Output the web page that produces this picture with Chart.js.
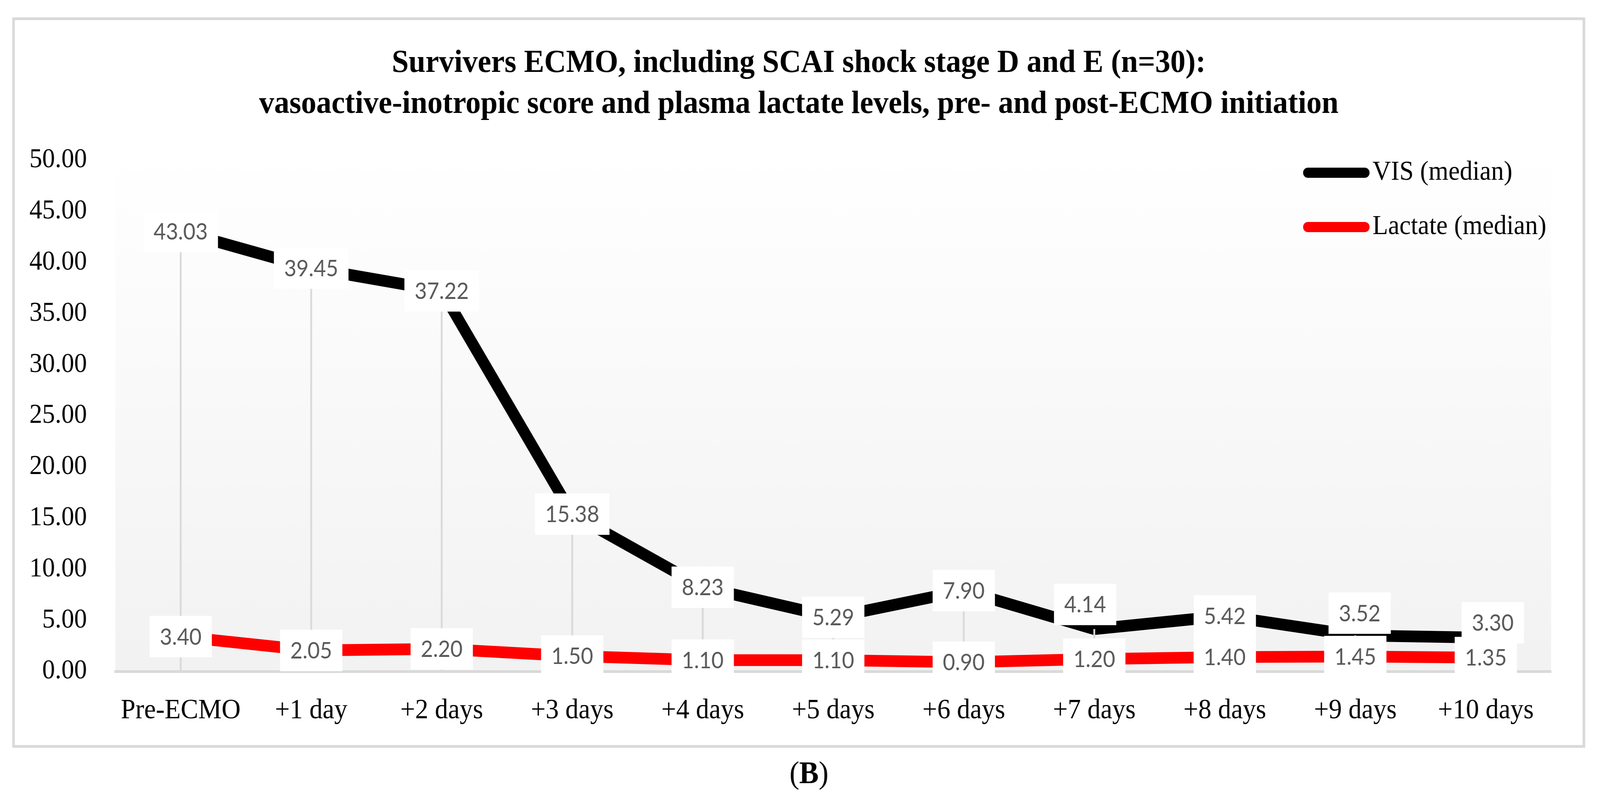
<!DOCTYPE html>
<html>
<head>
<meta charset="utf-8">
<script src="https://cdn.jsdelivr.net/npm/chart.js@4.4.1/dist/chart.umd.min.js"></script>
<style>
html, body { margin: 0; padding: 0; background: #fff; overflow: hidden; }
canvas { display: block; transform-origin: 0 0; }
</style>
</head>
<body>
<canvas id="ecmo-chart" width="4381" height="2042" style="width:4381px;height:2042px"></canvas>
<script>
// values (panel B)
var day_labels = ['Pre-ECMO', '+1 day', '+2 days', '+3 days', '+4 days', '+5 days',
                  '+6 days', '+7 days', '+8 days', '+9 days', '+10 days'];
var vis_median = [43.03, 39.45, 37.22, 15.38, 8.23, 5.29, 7.90, 4.14, 5.42, 3.52, 3.30];
var lactate_median = [3.40, 2.05, 2.20, 1.50, 1.10, 1.10, 0.90, 1.20, 1.40, 1.45, 1.35];
var series_names = ['VIS (median)', 'Lactate (median)'];
var title_lines = [
    'Survivers ECMO, including SCAI shock stage D and E (n=30):',
    'vasoactive-inotropic score and plasma lactate levels, pre- and post-ECMO initiation'
];
var caption_letter = 'B';

var serif = '"Liberation Serif", "Times New Roman", serif';
var sans = 'Lato, "Open Sans", sans-serif';

// the chart is laid out on a 4381x2042 sheet; squeeze it into whatever window we get
var W = 4381, H = 2042;
var canvasEl = document.getElementById('ecmo-chart');
canvasEl.style.transform = 'scale(' + (window.innerWidth / W) + ',' + (window.innerHeight / H) + ')';

// a few labels were moved by hand in the original so they don't sit on each other
// [dataset][point] = [dx, dy] in px
var labelNudge = {
    0: {7: [-25, -63], 9: [12, -57], 10: [19, -38]}
};

var decor = {
    id: 'decor',
    beforeDraw: function (chart) {
        var ctx = chart.ctx, a = chart.chartArea;
        ctx.save();
        ctx.fillStyle = '#fff';
        ctx.fillRect(0, 0, chart.width, chart.height);

        // outer frame
        ctx.strokeStyle = '#d9d9d9';
        ctx.lineWidth = 7;
        ctx.strokeRect(37, 48, 4300, 1862);

        // plot area, white to light grey
        var g = ctx.createLinearGradient(0, a.top, 0, a.bottom);
        g.addColorStop(0, '#ffffff');
        g.addColorStop(1, '#f2f2f2');
        ctx.fillStyle = g;
        ctx.fillRect(a.left, a.top, a.right - a.left, a.bottom - a.top);
        ctx.restore();
    },
    afterDatasetsDraw: function (chart) {
        var ctx = chart.ctx, a = chart.chartArea;
        ctx.save();

        // drop lines from the VIS points down to the axis
        var visMeta = chart.getDatasetMeta(0);
        ctx.strokeStyle = '#d9d9d9';
        ctx.lineWidth = 5;
        visMeta.data.forEach(function (pt) {
            ctx.beginPath();
            ctx.moveTo(pt.x, pt.y);
            ctx.lineTo(pt.x, a.bottom);
            ctx.stroke();
        });

        // value labels in white boxes
        ctx.font = '58px ' + sans;
        ctx.textAlign = 'center';
        ctx.textBaseline = 'middle';
        chart.data.datasets.forEach(function (ds, di) {
            var meta = chart.getDatasetMeta(di);
            meta.data.forEach(function (pt, i) {
                var txt = ds.data[i].toFixed(2);
                var nudge = (labelNudge[di] && labelNudge[di][i]) || [0, 0];
                var cx = pt.x + nudge[0], cy = pt.y + nudge[1];
                var w = ctx.measureText(txt).width + 56, h = 106;
                ctx.fillStyle = '#ffffff';
                ctx.fillRect(cx - w / 2, cy - h / 2, w, h);
                ctx.fillStyle = '#595959';
                ctx.fillText(txt, cx, cy + 2);
            });
        });
        ctx.restore();
    },
    afterDraw: function (chart) {
        var ctx = chart.ctx;
        ctx.save();

        // title
        ctx.fillStyle = '#000';
        ctx.textAlign = 'center';
        ctx.textBaseline = 'middle';
        ctx.font = 'bold 83px ' + serif;
        ctx.fillText(title_lines[0], 2187, 163);
        ctx.fillText(title_lines[1], 2187, 268);

        // legend
        var rows = [442, 581];
        chart.data.datasets.forEach(function (ds, di) {
            ctx.strokeStyle = ds.borderColor;
            ctx.lineWidth = 26;
            ctx.lineCap = 'round';
            ctx.beginPath();
            ctx.moveTo(3581, rows[di]);
            ctx.lineTo(3737, rows[di]);
            ctx.stroke();
            ctx.fillStyle = '#000';
            ctx.textAlign = 'left';
            ctx.font = '70px ' + serif;
            ctx.fillText(ds.label, 3758, rows[di]);
        });

        // panel caption "(B)"
        ctx.textAlign = 'left';
        ctx.font = '80px ' + serif;
        var wOpen = ctx.measureText('(').width;
        ctx.font = 'bold 80px ' + serif;
        var wB = ctx.measureText(caption_letter).width;
        var x0 = 2215 - (wOpen * 2 + wB) / 2;
        ctx.font = '80px ' + serif;
        ctx.fillText('(', x0, 1983);
        ctx.font = 'bold 80px ' + serif;
        ctx.fillText(caption_letter, x0 + wOpen, 1983);
        ctx.font = '80px ' + serif;
        ctx.fillText(')', x0 + wOpen + wB, 1983);
        ctx.restore();
    }
};

var chart = new Chart(canvasEl, {
    type: 'line',
    data: {
        labels: day_labels,
        datasets: [
            {label: series_names[0], data: vis_median, borderColor: '#000000'},
            {label: series_names[1], data: lactate_median, borderColor: '#ff0000'}
        ]
    },
    options: {
        responsive: false,
        animation: false,
        devicePixelRatio: 1,
        events: [],
        layout: {padding: {top: 410, right: 134, left: 0, bottom: 0}},
        elements: {
            line: {borderWidth: 30, tension: 0, borderCapStyle: 'butt', borderJoinStyle: 'miter', fill: false},
            point: {radius: 0, hoverRadius: 0}
        },
        plugins: {
            legend: {display: false},
            title: {display: false},
            tooltip: {enabled: false}
        },
        scales: {
            x: {
                offset: true,
                grid: {display: false},
                border: {display: true, color: '#d9d9d9', width: 7},
                ticks: {
                    color: '#000',
                    font: {family: serif, size: 72},
                    padding: 50,
                    maxRotation: 0,
                    autoSkip: false
                },
                afterFit: function (s) { s.height = 324; }
            },
            y: {
                min: 0,
                max: 50,
                grid: {display: false},
                border: {display: false},
                ticks: {
                    stepSize: 5,
                    color: '#000',
                    font: {family: serif, size: 70},
                    padding: 70,
                    callback: function (v) { return v.toFixed(2); }
                },
                afterFit: function (s) { s.width = 316; }
            }
        }
    },
    plugins: [decor]
});
</script>
</body>
</html>
